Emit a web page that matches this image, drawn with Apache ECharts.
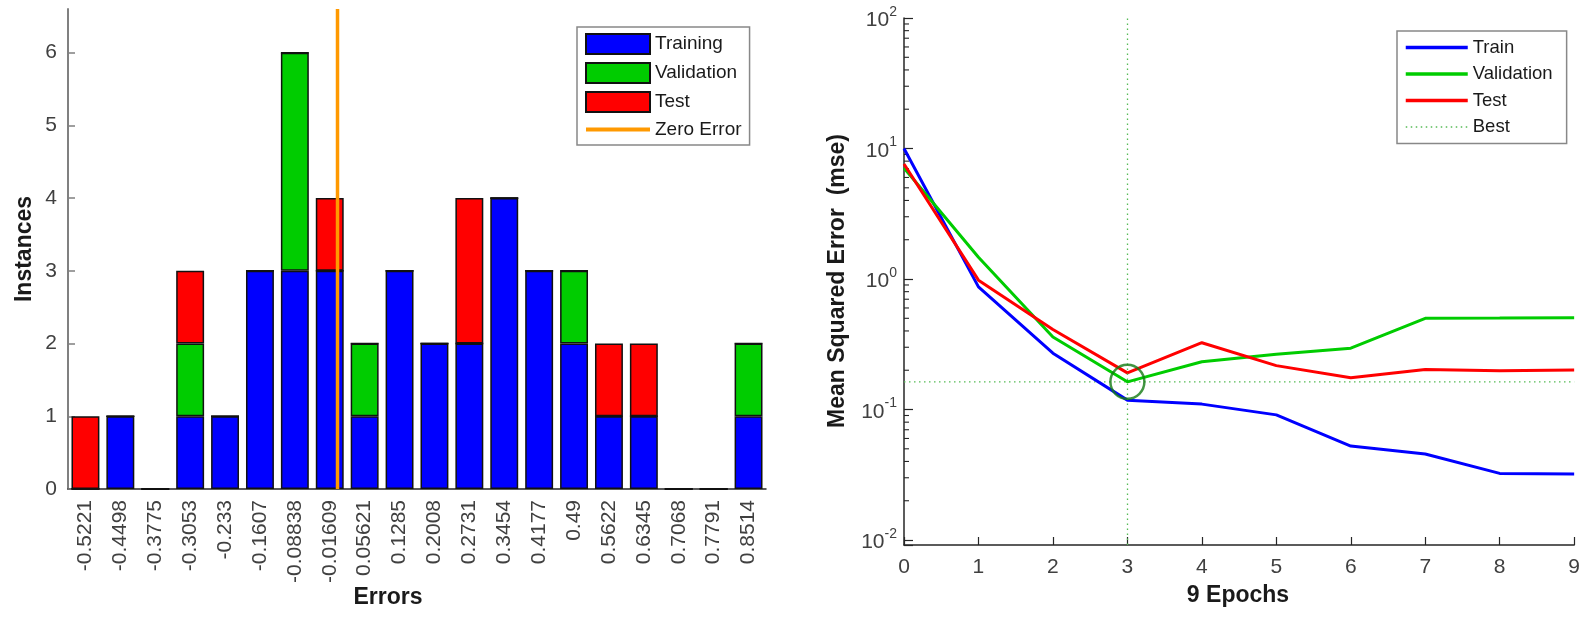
<!DOCTYPE html>
<html><head><meta charset="utf-8">
<script src="https://cdn.jsdelivr.net/npm/echarts@6/dist/echarts.min.js"></script>
<style>html,body{margin:0;padding:0;background:#fff}#c{width:1583px;height:617px}</style>
</head><body><div id="c"></div>
<script>
// ---- Error histogram data ----
const binLabels = ['-0.5221','-0.4498','-0.3775','-0.3053','-0.233','-0.1607','-0.08838','-0.01609','0.05621','0.1285','0.2008','0.2731','0.3454','0.4177','0.49','0.5622','0.6345','0.7068','0.7791','0.8514'];
const trainingCounts   = [0,1,0,1,1,3,3,3,1,3,2,2,4,3,2,1,1,0,0,1];
const validationCounts = [0,0,0,1,0,0,3,0,1,0,0,0,0,0,1,0,0,0,0,1];
const testCounts       = [1,0,0,1,0,0,0,1,0,0,0,2,0,0,0,1,1,0,0,0];
const zeroError = 0;
const instanceTicks = [0,1,2,3,4,5,6];
const instanceMax = 6.6;

// ---- Performance data ----
const epochs = [0,1,2,3,4,5,6,7,8,9];
const trainPerf = [10, 0.87, 0.27, 0.118, 0.110, 0.091, 0.0525, 0.0456, 0.0324, 0.032];
const valPerf   = [7.1, 1.47, 0.36, 0.163, 0.232, 0.265, 0.295, 0.50, 0.502, 0.505];
const testPerf  = [7.6, 0.98, 0.41, 0.191, 0.325, 0.217, 0.175, 0.203, 0.198, 0.201];
const bestEpoch = 3;
const perfMin = 0.00916, perfMax = 100;
const logDecades = [-2,-1,0,1];
const minorMultipliers = [2,3,4,5,6,7,8,9];

const FONT = "'Liberation Sans', Arial, Helvetica, sans-serif";
const AX = '#262626', LBL = '#404040';

const binNums = binLabels.map(Number);
const halfBin = (binNums[binNums.length-1] - binNums[0]) / (binNums.length - 1) / 2;
const bestVal = valPerf[bestEpoch];
const minorTicks = [];
logDecades.forEach(d => minorMultipliers.forEach(m => minorTicks.push([epochs[0], m * Math.pow(10, d)])));
const perfNames = {Train:'Train', ValidationPerf:'Validation', TestPerf:'Test', Best:'Best'};

const barBorder = {borderColor:'#111', borderWidth:1.5};
const noSym = {opacity:0, color:'rgba(0,0,0,0)', borderColor:'rgba(0,0,0,0)', borderWidth:0};

const chart = echarts.init(document.getElementById('c'), null, {renderer:'canvas'});
chart.setOption({
  animation:false,
  textStyle:{fontFamily:FONT},
  grid:[
    {left:68, top:9, width:698, height:480},
    {left:904, top:18, width:671, height:527}
  ],
  xAxis:[
    {type:'category', gridIndex:0, data:binLabels,
     axisLine:{onZero:false, lineStyle:{color:AX, width:1.5}},
     axisTick:{inside:true, alignWithLabel:true, length:7, lineStyle:{color:AX, width:1.2}},
     axisLabel:{rotate:90, interval:0, fontSize:21, margin:11, color:LBL, fontFamily:FONT},
     splitLine:{show:false}},
    {type:'value', gridIndex:0, show:false, min:binNums[0]-halfBin, max:binNums[binNums.length-1]+halfBin,
     axisLine:{onZero:false}},
    {type:'value', gridIndex:1, min:epochs[0], max:epochs[epochs.length-1], interval:1,
     axisLine:{onZero:false, lineStyle:{color:AX, width:1.5}},
     axisTick:{inside:true, length:8, lineStyle:{color:AX, width:1.2}},
     axisLabel:{fontSize:21, margin:12, color:LBL, fontFamily:FONT},
     splitLine:{show:false}}
  ],
  yAxis:[
    {type:'value', gridIndex:0, min:0, max:instanceMax, interval:1,
     axisLine:{show:true, onZero:false, lineStyle:{color:'#808080', width:2}},
     axisTick:{show:true, inside:true, length:7, customValues:instanceTicks, lineStyle:{color:'#808080', width:1.5}},
     axisLabel:{fontSize:21, margin:11, color:LBL, fontFamily:FONT, customValues:instanceTicks,
       formatter:v => Number.isInteger(v) ? String(v) : ''},
     splitLine:{show:false}},
    {type:'log', logBase:10, gridIndex:1, min:perfMin, max:perfMax,
     axisLine:{show:true, onZero:false, lineStyle:{color:AX, width:1.5}},
     axisTick:{show:true, inside:true, length:9, lineStyle:{color:AX, width:1.2}},
     axisLabel:{margin:7, color:LBL, fontFamily:FONT,
       formatter:v => { const e = Math.log10(v), r = Math.round(e); return Math.abs(e-r) < 1e-6 ? '{b|10}{s|' + r + '}' : ''; },
       rich:{b:{fontSize:21, color:LBL, fontFamily:FONT, verticalAlign:'bottom', lineHeight:26},
             s:{fontSize:14, color:LBL, fontFamily:FONT, verticalAlign:'top', lineHeight:26}}},
     splitLine:{show:false}}
  ],
  legend:[
    {orient:'vertical', left:577, top:27, itemWidth:64, itemHeight:20, itemGap:7,
     padding:[6,8,6,7], borderColor:'#888', borderWidth:1.5, selectedMode:false,
     textStyle:{fontSize:19, color:'#1a1a1a', fontFamily:FONT},
     data:[{name:'Training', icon:'rect'},{name:'Validation', icon:'rect'},{name:'Test', icon:'rect'},
           {name:'Zero Error', itemStyle:noSym, lineStyle:{width:4}}]},
    {orient:'vertical', left:1397, top:31, itemWidth:62, itemHeight:18, itemGap:7.5,
     padding:[7,14,7,7], borderColor:'#888', borderWidth:1.5, selectedMode:false,
     textStyle:{fontSize:18.5, color:'#1a1a1a', fontFamily:FONT},
     formatter:n => perfNames[n], itemStyle:noSym, lineStyle:{width:3.5},
     data:['Train','ValidationPerf','TestPerf',{name:'Best', lineStyle:{width:1.3}}]}
  ],
  series:[
    {name:'Training', type:'bar', xAxisIndex:0, yAxisIndex:0, stack:'hist', barWidth:'80%',
     itemStyle:Object.assign({color:'#0000ff'}, barBorder), data:trainingCounts},
    {name:'Validation', type:'bar', xAxisIndex:0, yAxisIndex:0, stack:'hist', barWidth:'80%',
     itemStyle:Object.assign({color:'#00cc00'}, barBorder), data:validationCounts},
    {name:'Test', type:'bar', xAxisIndex:0, yAxisIndex:0, stack:'hist', barWidth:'80%',
     itemStyle:Object.assign({color:'#ff0000'}, barBorder), data:testCounts},
    {name:'Zero Error', type:'line', xAxisIndex:1, yAxisIndex:0, symbol:'none', z:5,
     lineStyle:{color:'#ff9900', width:3.5}, itemStyle:{color:'#ff9900'},
     data:[[zeroError,0],[zeroError,instanceMax]]},

    {name:'Train', type:'line', xAxisIndex:2, yAxisIndex:1, symbol:'none',
     lineStyle:{color:'#0000ff', width:3}, itemStyle:{color:'#0000ff'},
     data:epochs.map((e,i)=>[e,trainPerf[i]])},
    {name:'ValidationPerf', type:'line', xAxisIndex:2, yAxisIndex:1, symbol:'none',
     lineStyle:{color:'#00cc00', width:3}, itemStyle:{color:'#00cc00'},
     data:epochs.map((e,i)=>[e,valPerf[i]])},
    {name:'TestPerf', type:'line', xAxisIndex:2, yAxisIndex:1, symbol:'none',
     lineStyle:{color:'#ff0000', width:3}, itemStyle:{color:'#ff0000'},
     data:epochs.map((e,i)=>[e,testPerf[i]])},
    {name:'Best', type:'line', xAxisIndex:2, yAxisIndex:1, symbol:'none', z:1,
     lineStyle:{color:'#55bb55', width:1.3, type:[1.5,3.5]}, itemStyle:{color:'#55bb55'},
     data:[[epochs[0],bestVal],[epochs[epochs.length-1],bestVal]],
     markLine:{silent:true, symbol:'none', label:{show:false},
       lineStyle:{color:'#55bb55', width:1.3, type:[1.5,3.5]}, data:[{xAxis:bestEpoch}]}},
    {name:'BestCircle', type:'scatter', xAxisIndex:2, yAxisIndex:1, symbol:'circle', symbolSize:34, z:6,
     itemStyle:{color:'rgba(0,0,0,0)', borderColor:'#137a13', borderWidth:2.5},
     data:[[bestEpoch,bestVal]]},
    {name:'minorTicks', type:'custom', xAxisIndex:2, yAxisIndex:1, silent:true, clip:false, z:3,
     renderItem:(params, api) => {
       const p = api.coord([api.value(0), api.value(1)]);
       return {type:'line', shape:{x1:p[0], y1:p[1], x2:p[0]+5, y2:p[1]},
               style:{stroke:AX, lineWidth:1.1}};
     },
     data:minorTicks}
  ],
  graphic:[
    {type:'text', x:25, y:249, rotation:Math.PI/2,
     style:{text:'Instances', font:"bold 23px " + FONT, fill:'#1a1a1a', textAlign:'center', textVerticalAlign:'middle'}},
    {type:'text', x:388, y:598,
     style:{text:'Errors', font:"bold 23px " + FONT, fill:'#1a1a1a', textAlign:'center', textVerticalAlign:'middle'}},
    {type:'text', x:838, y:281, rotation:Math.PI/2,
     style:{text:'Mean Squared Error  (mse)', font:"bold 23px " + FONT, fill:'#1a1a1a', textAlign:'center', textVerticalAlign:'middle'}},
    {type:'text', x:1238, y:596,
     style:{text:'9 Epochs', font:"bold 23px " + FONT, fill:'#1a1a1a', textAlign:'center', textVerticalAlign:'middle'}}
  ]
});
</script></body></html>
